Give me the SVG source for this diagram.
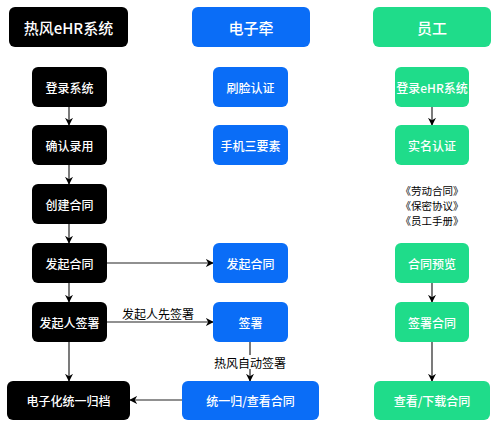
<svg xmlns="http://www.w3.org/2000/svg" width="500" height="429" viewBox="0 0 500 429">
<style>
.k{fill:#000}
.b{fill:#0a6df7}
.g{fill:#1fdc8a}
.t{fill:#fff;font-family:"Noto Sans CJK SC","Liberation Sans",sans-serif;font-weight:500;text-anchor:middle;dominant-baseline:central}
.h{font-size:15px}
.n{font-size:12px}
.l{fill:#000;font-family:"Noto Sans CJK SC","Liberation Sans",sans-serif;font-size:12px;text-anchor:middle;dominant-baseline:central}
.d{font-size:10.5px}
.c line{stroke:#222;stroke-width:1.2;fill:none}
</style>
<defs>
<marker id="a" viewBox="0 0 10 10" refX="9" refY="5" markerWidth="8" markerHeight="8" markerUnits="userSpaceOnUse" orient="auto">
<path d="M0,0 L10,5 L0,10 L3,5 Z" fill="#000"/>
</marker>
</defs>
<rect width="500" height="429" fill="#fff"/>
<g class="c">
<line x1="69" y1="107" x2="69" y2="125" marker-end="url(#a)"/>
<line x1="69" y1="165" x2="69" y2="184" marker-end="url(#a)"/>
<line x1="69" y1="224" x2="69" y2="243" marker-end="url(#a)"/>
<line x1="69" y1="283" x2="69" y2="302" marker-end="url(#a)"/>
<line x1="69" y1="342" x2="69" y2="381" marker-end="url(#a)"/>
<line x1="107" y1="263" x2="213" y2="263" marker-end="url(#a)"/>
<line x1="107" y1="322" x2="213" y2="322" marker-end="url(#a)"/>
<line x1="250" y1="342" x2="250" y2="381" marker-end="url(#a)"/>
<line x1="182" y1="400" x2="130" y2="400" marker-end="url(#a)"/>
<line x1="432" y1="107" x2="432" y2="125" marker-end="url(#a)"/>
<line x1="432" y1="283" x2="432" y2="302" marker-end="url(#a)"/>
<line x1="432" y1="342" x2="432" y2="381" marker-end="url(#a)"/>
</g>
<g id="labels">
<text class="l" x="158" y="313">发起人先签署</text>
<rect x="214" y="355" width="72" height="14" fill="#fff"/>
<text class="l" x="250" y="362">热风自动签署</text>
<text class="l d" x="432" y="190">《劳动合同》</text>
<text class="l d" x="432" y="205">《保密协议》</text>
<text class="l d" x="432" y="220">《员工手册》</text>
</g>
<g id="h1"><rect class="k" x="9" y="7" width="119" height="40" rx="6"/><text class="t h" x="68.5" y="27">热风eHR系统</text></g>
<g id="h2"><rect class="b" x="192" y="7" width="118" height="40" rx="6"/><text class="t h" x="251" y="27">电子牵</text></g>
<g id="h3"><rect class="g" x="373" y="7" width="118" height="40" rx="6"/><text class="t h" x="432" y="27">员工</text></g>
<g id="l1"><rect class="k" x="32" y="67" width="75" height="40" rx="6"/><text class="t n" x="69.5" y="87">登录系统</text></g>
<g id="l2"><rect class="k" x="32" y="125" width="75" height="40" rx="6"/><text class="t n" x="69.5" y="145">确认录用</text></g>
<g id="l3"><rect class="k" x="32" y="184" width="75" height="40" rx="6"/><text class="t n" x="69.5" y="204">创建合同</text></g>
<g id="l4"><rect class="k" x="32" y="243" width="75" height="40" rx="6"/><text class="t n" x="69.5" y="263">发起合同</text></g>
<g id="l5"><rect class="k" x="32" y="302" width="75" height="40" rx="6"/><text class="t n" x="69.5" y="322">发起人签署</text></g>
<g id="l6"><rect class="k" x="7" y="381" width="123" height="39" rx="6"/><text class="t n" x="68.5" y="400.5">电子化统一归档</text></g>
<g id="m1"><rect class="b" x="213" y="67" width="75" height="40" rx="6"/><text class="t n" x="250.5" y="87">刷脸认证</text></g>
<g id="m2"><rect class="b" x="213" y="125" width="75" height="40" rx="6"/><text class="t n" x="250.5" y="145">手机三要素</text></g>
<g id="m3"><rect class="b" x="213" y="243" width="75" height="40" rx="6"/><text class="t n" x="250.5" y="263">发起合同</text></g>
<g id="m4"><rect class="b" x="213" y="302" width="75" height="40" rx="6"/><text class="t n" x="250.5" y="322">签署</text></g>
<g id="m5"><rect class="b" x="182" y="381" width="137" height="39" rx="6"/><text class="t n" x="250.5" y="400.5">统一归/查看合同</text></g>
<g id="r1"><rect class="g" x="395" y="67" width="74" height="40" rx="6"/><text class="t n" x="432" y="87">登录eHR系统</text></g>
<g id="r2"><rect class="g" x="395" y="125" width="74" height="40" rx="6"/><text class="t n" x="432" y="145">实名认证</text></g>
<g id="r3"><rect class="g" x="395" y="243" width="74" height="40" rx="6"/><text class="t n" x="432" y="263">合同预览</text></g>
<g id="r4"><rect class="g" x="395" y="302" width="74" height="40" rx="6"/><text class="t n" x="432" y="322">签署合同</text></g>
<g id="r5"><rect class="g" x="374" y="381" width="116" height="39" rx="6"/><text class="t n" x="432" y="400.5">查看/下载合同</text></g>
</svg>
